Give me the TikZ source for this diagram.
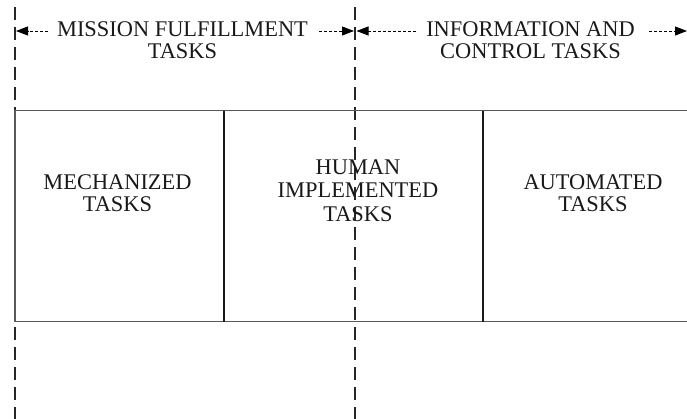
\documentclass[tikz,border=0pt]{standalone}
\usepackage{fontspec}
\setmainfont{Liberation Serif}
\usetikzlibrary{arrows.meta}
\begin{document}
\begin{tikzpicture}[x=1pt,y=-1pt,
  lbl/.style={font=\fontsize{22.4}{22}\selectfont, inner sep=0pt, anchor=base, text=black!90},
  vdash/.style={line width=1.2pt, black!85, dash pattern=on 13pt off 7pt, dash phase=13pt},
  boxline/.style={line width=1.3pt, black!65},
  divline/.style={line width=1.2pt, black!90},
  dimarrow/.style={line width=0.9pt, dash pattern=on 3pt off 2pt, -{Triangle[length=12pt,width=9pt]}}]
\useasboundingbox (0,0) rectangle (687,419);
% vertical dashed guides
\coordinate (L0) at (15,0); \coordinate (L1) at (15,419);
\coordinate (M0) at (355,0); \coordinate (M1) at (355,419);
\draw[vdash] (L0) -- (L1);
\draw[vdash] (M0) -- (M1);
% box
\coordinate (TL) at (15,110.7); \coordinate (TR) at (687,110.7);
\coordinate (BL) at (15,321.7); \coordinate (BR) at (687,321.7);
\coordinate (D1t) at (224,110.7); \coordinate (D1b) at (224,321.7);
\coordinate (D2t) at (483,110.7); \coordinate (D2b) at (483,321.7);
\draw[boxline] (TR) -- (TL) -- (BL) -- (BR);
\draw[divline] (D1t) -- (D1b);
\draw[divline] (D2t) -- (D2b);
% headings
\node[lbl] (m1) at (182.5,36.7) {MISSION FULFILLMENT};
\node[lbl] (m2) at (182.5,59) {TASKS};
\node[lbl] (i1) at (530.5,36.7) {INFORMATION AND};
\node[lbl] (i2) at (530.5,59) {CONTROL TASKS};
% arrows
\coordinate (a1s) at (48,31);  \coordinate (a1e) at (16,31);
\coordinate (a2s) at (319,31); \coordinate (a2e) at (354,31);
\coordinate (a3s) at (416,31); \coordinate (a3e) at (356.5,31);
\coordinate (a4s) at (649,31); \coordinate (a4e) at (687,31);
\draw[dimarrow] (a1s) -- (a1e);
\draw[dimarrow] (a2s) -- (a2e);
\draw[dimarrow] (a3s) -- (a3e);
\draw[dimarrow] (a4s) -- (a4e);
% cell texts
\node[lbl] (c1a) at (117.5,190) {MECHANIZED};
\node[lbl] (c1b) at (117.5,212) {TASKS};
\node[lbl] (c2a) at (358,175) {HUMAN};
\node[lbl] (c2b) at (358,198) {IMPLEMENTED};
\node[lbl] (c2c) at (358,221.5) {TASKS};
\node[lbl] (c3a) at (593,190) {AUTOMATED};
\node[lbl] (c3b) at (593,212) {TASKS};
\end{tikzpicture}
\end{document}
